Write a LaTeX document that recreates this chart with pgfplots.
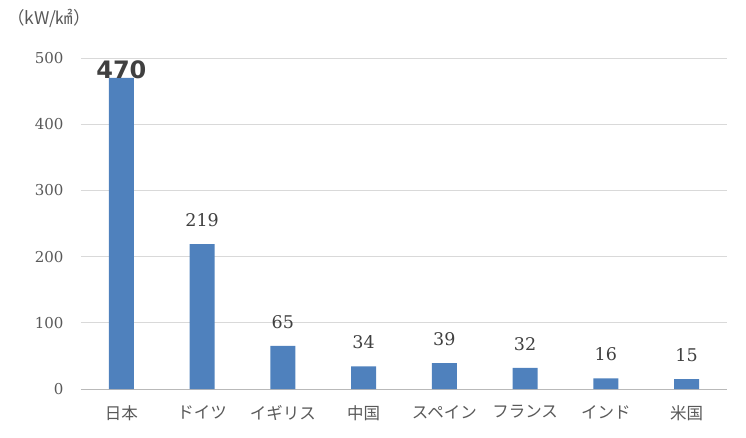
\documentclass[border=0pt]{standalone}
\usepackage{fontspec}
\usepackage{pgfplots}
\pgfplotsset{compat=1.18}
\setmainfont{Noto Sans CJK JP}
\newfontfamily\jp{Noto Sans CJK JP}
\newfontfamily\numfont{DejaVu Serif}
\newfontfamily\boldnum{DejaVu Sans}
\definecolor{barblue}{HTML}{4F81BD}
\definecolor{txtgray}{HTML}{595959}
\definecolor{gridgray}{HTML}{D9D9D9}
\begin{document}
\begin{tikzpicture}
\useasboundingbox (-81pt,-48pt) rectangle (665pt,389pt);
\begin{axis}[
  at={(0pt,0pt)}, anchor=south west,
  scale only axis, width=646pt, height=331pt,
  ybar, bar width=25pt,
  xmin=-0.5, xmax=7.5, ymin=0, ymax=500,
  xtick=data,
  xticklabels={日本,ドイツ,イギリス,中国,スペイン,フランス,インド,米国},
  ytick={0,100,200,300,400,500},
  axis x line*=bottom, axis y line*=left,
  y axis line style={draw=none},
  x axis line style={draw=gray!55, line width=0.9pt},
  major tick length=0pt,
  ymajorgrids, grid style={gridgray, line width=0.8pt},
  /pgf/number format/assume math mode=true,
  yticklabel style={font=\numfont\fontsize{15}{15}\selectfont, text=txtgray, anchor=east, xshift=-14pt},
  xticklabel style={font=\jp\fontsize{16.5}{17}\selectfont, text=txtgray, anchor=north, yshift=-13pt},
  nodes near coords={\ifnum\coordindex=0 \else\pgfmathprintnumber{\pgfplotspointmeta}\fi},
  nodes near coords style={font=\numfont\fontsize{17.5}{18}\selectfont, text=black!75, anchor=south, yshift=14pt},
  clip=false,
]
\addplot[fill=barblue, draw=none] coordinates {
  (0,470) (1,219) (2,65) (3,34) (4,39) (5,32) (6,16) (7,15)
};
\node[font=\boldnum\bfseries\fontsize{24}{24}\selectfont, text=black!75] at (axis cs:0,482) {470};
\end{axis}
\node[font=\jp\fontsize{17.5}{17.5}\selectfont, text=txtgray] at (-32pt,371pt) {（kW/㎢）};
\end{tikzpicture}
\end{document}
